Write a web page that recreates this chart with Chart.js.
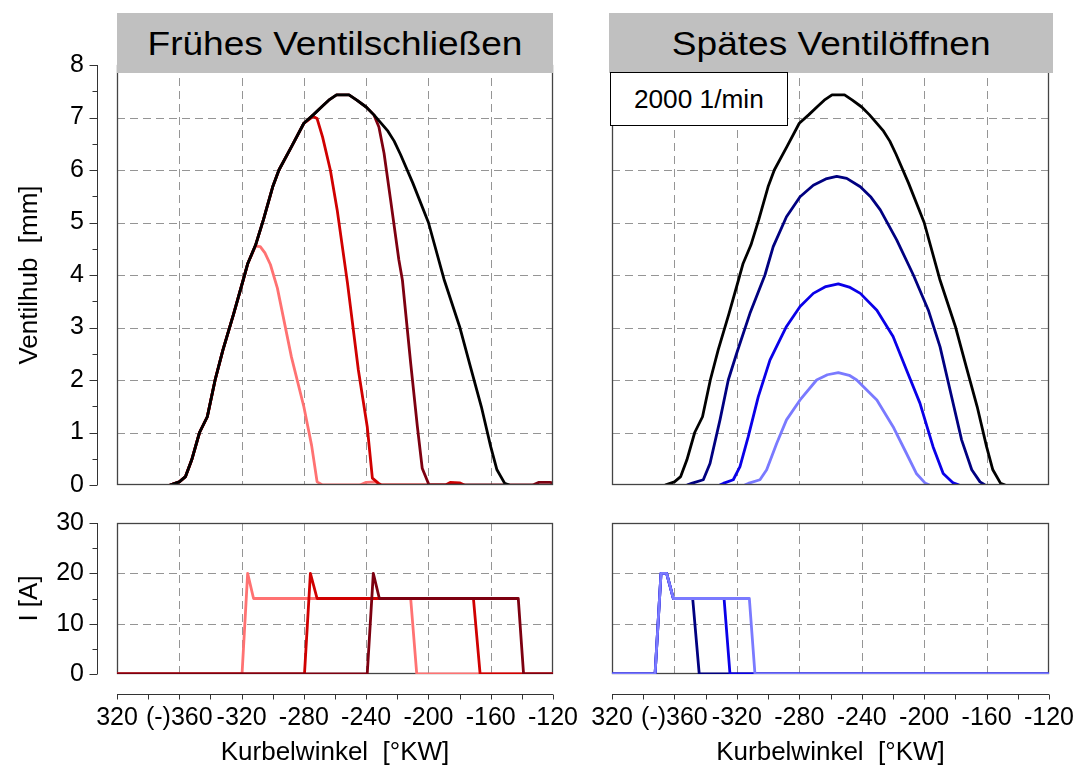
<!DOCTYPE html>
<html>
<head>
<meta charset="utf-8">
<script src="https://cdn.jsdelivr.net/npm/chart.js@4.4.0/dist/chart.umd.min.js"></script>
<style>
  body { margin: 0; background: #fff; font-family: "Liberation Sans", Arial, sans-serif; }
  #page { position: relative; width: 1078px; height: 769px; overflow: hidden; }
  canvas { position: absolute; left: 0; top: 0; }
  .head { position: absolute; top: 13px; height: 60px; background: #c0c0c0; font-size: 34px;
          line-height: 60px; text-align: center; color: #000; z-index: 5; }
  .head span { display: inline-block; transform: scaleX(1.09); }
  .speed { position: absolute; left: 610px; top: 72px; width: 176px; height: 52px; border: 1.5px solid #000;
           background: #fff; font-size: 25px; line-height: 52px; text-align: center; z-index: 5; }
  .speed span { display: inline-block; transform: scaleX(1.05); }
</style>
</head>
<body>
<div id="page">
  <canvas id="liftEarly" width="1078" height="769"></canvas>
  <canvas id="liftLate" width="1078" height="769"></canvas>
  <canvas id="currentEarly" width="1078" height="769"></canvas>
  <canvas id="currentLate" width="1078" height="769"></canvas>
  <div class="head" style="left:117px;width:436px"><span>Frühes Ventilschließen</span></div>
  <div class="head" style="left:609px;width:444px"><span>Spätes Ventilöffnen</span></div>
  <div class="speed"><span>2000 1/min</span></div>
</div>
<script>
"use strict";

// x axis: Kurbelwinkel, -400 is shown as "320"
const angleTicks = [-400, -360, -320, -280, -240, -200, -160, -120];
const angleTickLabels = ['320', '(-)360', '-320', '-280', '-240', '-200', '-160', '-120'];
const liftTicks = [0, 1, 2, 3, 4, 5, 6, 7, 8];
const currentTicks = [0, 10, 20, 30];

// Ventilhub [mm] - full lift (black)
const fullAngle = [-366, -360, -356, -352, -347, -342, -337, -332, -325, -319, -316, -311, -306, -300, -296, -288, -280, -274, -268, -264, -259, -251, -246, -240, -235, -230, -226, -222, -218, -210, -200, -190, -180, -173, -166, -160, -156, -151, -148];
const fullLift = [0, 0.06, 0.16, 0.48, 1.0, 1.3, 2.0, 2.57, 3.27, 3.9, 4.22, 4.57, 5.05, 5.68, 6.0, 6.44, 6.89, 7.05, 7.22, 7.33, 7.43, 7.43, 7.33, 7.2, 7.05, 6.88, 6.74, 6.55, 6.3, 5.75, 5.0, 3.92, 3.02, 2.25, 1.49, 0.73, 0.29, 0.03, 0];

// early closing
const earlyPinkAngle = [-366, -360, -356, -352, -347, -342, -337, -332, -325, -319, -316, -311, -308, -305, -301.5, -297, -288, -280, -275, -271.5, -268, -244, -240, -234, -231];
const earlyPinkLift = [0, 0.06, 0.16, 0.48, 1.0, 1.3, 2.0, 2.57, 3.27, 3.9, 4.22, 4.55, 4.54, 4.42, 4.2, 3.75, 2.44, 1.49, 0.75, 0.06, 0, 0, 0.05, 0.06, 0];
const earlyRedAngle = [-366, -360, -356, -352, -347, -342, -337, -332, -325, -319, -316, -311, -306, -300, -296, -288, -280, -274, -271.5, -268, -263, -258.6, -252, -245, -239.3, -236, -232, -230, -189, -186, -180, -177];
const earlyRedLift = [0, 0.06, 0.16, 0.48, 1.0, 1.3, 2.0, 2.57, 3.27, 3.9, 4.22, 4.57, 5.05, 5.68, 6.0, 6.44, 6.89, 7.02, 6.98, 6.63, 6.0, 5.24, 3.85, 2.19, 1.11, 0.13, 0.03, 0, 0, 0.05, 0.04, 0];
const earlyDarkAngle = [-366, -360, -356, -352, -347, -342, -337, -332, -325, -319, -316, -311, -306, -300, -296, -288, -280, -274, -268, -264, -259, -251, -246, -240, -235, -231.8, -228.5, -224.3, -219, -216.7, -211.4, -207.1, -204, -199.6, -133, -129, -122, -120];
const earlyDarkLift = [0, 0.06, 0.16, 0.48, 1.0, 1.3, 2.0, 2.57, 3.27, 3.9, 4.22, 4.57, 5.05, 5.68, 6.0, 6.44, 6.89, 7.05, 7.22, 7.33, 7.43, 7.43, 7.33, 7.2, 7.05, 6.82, 6.32, 5.43, 4.29, 3.9, 2.32, 1.11, 0.32, 0, 0, 0.05, 0.05, 0.04];

// late opening
const lateNavyAngle = [-352, -349, -341.5, -337.2, -330.8, -325.5, -320.1, -311.6, -302, -296.7, -288.2, -279.5, -271, -263, -256, -249.6, -240.9, -234, -228.1, -217.6, -206.9, -197.3, -189.8, -182.4, -176, -169.5, -164.2, -161];
const lateNavyLift = [0, 0.03, 0.1, 0.41, 1.24, 2.0, 2.51, 3.27, 4.0, 4.54, 5.11, 5.49, 5.71, 5.83, 5.88, 5.84, 5.68, 5.48, 5.24, 4.67, 4.0, 3.33, 2.63, 1.68, 0.86, 0.29, 0.06, 0];
const lateBlueAngle = [-331, -328.7, -322.3, -318, -312.7, -306.3, -298.8, -293, -288.2, -279.5, -271, -263, -255, -248, -240.9, -230.3, -219.9, -211.3, -202.7, -194.3, -187.8, -181.4, -177.5];
const lateBlueLift = [0, 0.03, 0.1, 0.35, 0.92, 1.68, 2.38, 2.73, 3.02, 3.4, 3.65, 3.78, 3.83, 3.77, 3.65, 3.33, 2.83, 2.19, 1.56, 0.73, 0.22, 0.04, 0];
const lateLightAngle = [-315, -312.7, -305.2, -300.9, -294.5, -288.2, -279.5, -268.9, -262, -255, -248, -243.2, -230.3, -219.9, -211.3, -205, -199.5, -196.6];
const lateLightLift = [0, 0.03, 0.1, 0.29, 0.79, 1.24, 1.62, 2.0, 2.1, 2.14, 2.09, 2.0, 1.62, 1.11, 0.6, 0.22, 0.04, 0];

// I [A]
const curPinkAngle = [-400, -319.7, -316.1, -312.3, -211.4, -207.5, -120];
const curPinkAmp = [0, 0, 20, 15, 15, 0, 0];
const curRedAngle = [-400, -279.6, -275.8, -271.5, -171.1, -166.8, -120];
const curRedAmp = [0, 0, 20, 15, 15, 0, 0];
const curDarkAngle = [-400, -239.3, -235.4, -231.5, -142.3, -138.9, -120];
const curDarkAmp = [0, 0, 20, 15, 15, 0, 0];
const curNavyAngle = [-400, -372.4, -368.6, -365, -360.7, -348.3, -344.1, -120];
const curNavyAmp = [0, 0, 20, 20, 15, 15, 0, 0];
const curBlueAngle = [-400, -372.4, -368.6, -365, -360.7, -328.2, -324.4, -120];
const curBlueAmp = [0, 0, 20, 20, 15, 15, 0, 0];
const curLightAngle = [-400, -372.4, -368.6, -365, -360.7, -312, -308.4, -120];
const curLightAmp = [0, 0, 20, 20, 15, 15, 0, 0];

const PINK = '#ff7272', RED = '#d00000', DARK = '#7d0010';
const NAVY = '#000080', BLUE = '#0a00e8', LIGHT = '#7a7aff';

const W = 1078, H = 769;
const LEFT_COLS = { left: 117, right: 553 };
const RIGHT_COLS = { left: 612, right: 1049 };
const LIFT_ROWS = { top: 65, bottom: 485 };
const CURRENT_ROWS = { top: 523, bottom: 674 };
const AXIS_GAP = 20;
const FONT = '"Liberation Sans", Arial, sans-serif';

function toPoints(xs, ys) {
    return xs.map((x, i) => ({ x: x, y: ys[i] }));
}

function series(xs, ys, color) {
    return {
        data: toPoints(xs, ys),
        borderColor: color,
        borderWidth: 2.8,
        borderJoinStyle: 'round',
        pointRadius: 0,
        tension: 0,
        fill: false
    };
}

function steps(from, to, step) {
    const out = [];
    for (let v = from; v <= to + 1e-9; v += step) out.push(Math.round(v * 100) / 100);
    return out;
}

function drawBox(chart) {
    const { ctx, chartArea: a } = chart;
    ctx.save();
    ctx.strokeStyle = '#444';
    ctx.lineWidth = 1.3;
    ctx.strokeRect(a.left + 0.5, a.top + 0.5, a.right - a.left - 1, a.bottom - a.top - 1);
    ctx.restore();
}

// grid, frame and the detached axis lines with their tick marks
const panelFrame = {
    id: 'panelFrame',
    beforeDatasetsDraw(chart, args, o) {
        const { ctx, chartArea: a, scales: { x, y } } = chart;
        ctx.save();
        ctx.strokeStyle = '#959595';
        ctx.lineWidth = 1;
        ctx.setLineDash([8, 5]);
        ctx.beginPath();
        o.xGrid.forEach(v => {
            const px = Math.round(x.getPixelForValue(v)) + 0.5;
            ctx.moveTo(px, a.top);
            ctx.lineTo(px, a.bottom);
        });
        o.yGrid.forEach(v => {
            const py = Math.round(y.getPixelForValue(v)) + 0.5;
            ctx.moveTo(a.left, py);
            ctx.lineTo(a.right, py);
        });
        ctx.stroke();
        ctx.restore();
        if (o.boxFirst) drawBox(chart);
    },
    afterDatasetsDraw(chart, args, o) {
        if (!o.boxFirst) drawBox(chart);
        const { ctx, chartArea: a, scales: { x, y } } = chart;
        ctx.save();
        ctx.strokeStyle = '#333';
        ctx.lineWidth = 1;
        ctx.beginPath();
        if (o.yAxis) {
            const ax = a.left - AXIS_GAP + 0.5;
            ctx.moveTo(ax, y.getPixelForValue(y.max));
            ctx.lineTo(ax, y.getPixelForValue(y.min));
            o.yMinor.forEach(v => {
                const py = Math.round(y.getPixelForValue(v)) + 0.5;
                const len = o.yMajor.includes(v) ? 8 : 5;
                ctx.moveTo(ax, py);
                ctx.lineTo(ax - len, py);
            });
        }
        if (o.xAxis) {
            const ay = a.bottom + AXIS_GAP + 0.5;
            ctx.moveTo(x.getPixelForValue(x.min), ay);
            ctx.lineTo(x.getPixelForValue(x.max), ay);
            o.xMinor.forEach(v => {
                const px = Math.round(x.getPixelForValue(v)) + 0.5;
                ctx.moveTo(px, ay);
                ctx.lineTo(px, ay + 5);
            });
        }
        ctx.stroke();
        ctx.restore();
    }
};

function makePanel(id, cfg) {
    const hasX = cfg.rows === CURRENT_ROWS;
    const hasY = cfg.cols === LEFT_COLS;
    const isLift = cfg.rows === LIFT_ROWS;
    const yTicks = isLift ? liftTicks : currentTicks;
    const yMax = yTicks[yTicks.length - 1];
    const yStep = yTicks[1] - yTicks[0];
    return new Chart(document.getElementById(id), {
        type: 'line',
        data: { datasets: cfg.datasets },
        plugins: [panelFrame],
        options: {
            responsive: false,
            animation: false,
            events: [],
            layout: {
                padding: {
                    left: hasY ? 0 : cfg.cols.left,
                    right: W - cfg.cols.right,
                    top: cfg.rows.top,
                    bottom: hasX ? 0 : H - cfg.rows.bottom
                }
            },
            scales: {
                x: {
                    type: 'linear',
                    min: angleTicks[0],
                    max: angleTicks[angleTicks.length - 1],
                    display: hasX,
                    afterFit: s => { if (hasX) s.height = H - cfg.rows.bottom; },
                    // tick marks are drawn by panelFrame; the length only sets the label gap
                    grid: { display: false, drawTicks: true, tickLength: 29 },
                    border: { display: false },
                    ticks: {
                        stepSize: 40,
                        autoSkip: false,
                        maxRotation: 0,
                        padding: 0,
                        color: '#000',
                        font: { family: FONT, size: 25 },
                        callback: v => {
                            const i = angleTicks.indexOf(v);
                            return i < 0 ? '' : angleTickLabels[i];
                        }
                    },
                    title: {
                        display: true,
                        text: 'Kurbelwinkel  [°KW]',
                        color: '#000',
                        font: { family: FONT, size: 26 },
                        padding: { top: 0, bottom: 1 }
                    }
                },
                y: {
                    type: 'linear',
                    min: 0,
                    max: yMax,
                    display: hasY,
                    afterFit: s => { if (hasY) s.width = cfg.cols.left; },
                    grid: { display: false, drawTicks: true, tickLength: 33 },
                    border: { display: false },
                    ticks: {
                        stepSize: yStep,
                        autoSkip: false,
                        padding: 0,
                        color: '#000',
                        font: { family: FONT, size: 25 }
                    },
                    title: {
                        display: true,
                        text: isLift ? 'Ventilhub  [mm]' : 'I [A]',
                        color: '#000',
                        font: { family: FONT, size: 26 },
                        padding: { top: 14, bottom: 0 }
                    }
                }
            },
            plugins: {
                legend: { display: false },
                tooltip: { enabled: false },
                title: { display: false },
                panelFrame: {
                    boxFirst: !isLift,
                    xGrid: angleTicks.slice(1, -1),
                    yGrid: yTicks.slice(1, -1),
                    yAxis: hasY,
                    xAxis: hasX,
                    yMajor: yTicks,
                    yMinor: steps(0, yMax, yStep / 2),
                    xMinor: steps(angleTicks[0], angleTicks[angleTicks.length - 1], 20)
                }
            }
        }
    });
}

// the first dataset is drawn on top
makePanel('liftEarly', {
    cols: LEFT_COLS, rows: LIFT_ROWS,
    datasets: [
        series(fullAngle, fullLift, '#000'),
        series(earlyDarkAngle, earlyDarkLift, DARK),
        series(earlyRedAngle, earlyRedLift, RED),
        series(earlyPinkAngle, earlyPinkLift, PINK)
    ]
});
makePanel('liftLate', {
    cols: RIGHT_COLS, rows: LIFT_ROWS,
    datasets: [
        series(fullAngle, fullLift, '#000'),
        series(lateNavyAngle, lateNavyLift, NAVY),
        series(lateBlueAngle, lateBlueLift, BLUE),
        series(lateLightAngle, lateLightLift, LIGHT)
    ]
});
makePanel('currentEarly', {
    cols: LEFT_COLS, rows: CURRENT_ROWS,
    datasets: [
        series(curDarkAngle, curDarkAmp, DARK),
        series(curRedAngle, curRedAmp, RED),
        series(curPinkAngle, curPinkAmp, PINK)
    ]
});
makePanel('currentLate', {
    cols: RIGHT_COLS, rows: CURRENT_ROWS,
    datasets: [
        series(curLightAngle, curLightAmp, LIGHT),
        series(curBlueAngle, curBlueAmp, BLUE),
        series(curNavyAngle, curNavyAmp, NAVY)
    ]
});
</script>
</body>
</html>
